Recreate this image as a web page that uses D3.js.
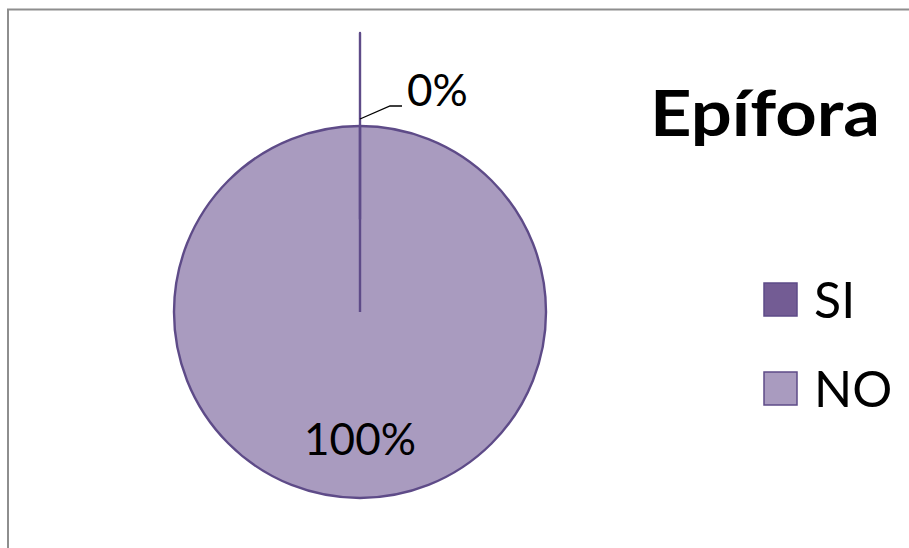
<!DOCTYPE html>
<html>
<head>
<meta charset="utf-8">
<script src="https://cdn.jsdelivr.net/npm/d3@7/dist/d3.min.js"></script>
<style>
  html, body { margin: 0; padding: 0; background: #ffffff; }
  svg { display: block; }
  text { font-family: Lato, "Noto Sans", sans-serif; fill: #000; }
</style>
</head>
<body>
<svg id="chart" width="909" height="548"></svg>
<script>
// Chart data
const title = "Epífora";
const categories = ["SI", "NO"];
const values = [0, 100];
const percentLabels = ["0%", "100%"];
const colors = ["#735c94", "#a99bbf"];
const explode = [0.5, 0];

const W = 909, H = 548;
const svg = d3.select("#chart");

// Chart-area frame (runs off the right and bottom edges)
svg.append("path")
  .attr("d", `M8,${H + 5} L8,9.5 L${W + 5},9.5`)
  .attr("fill", "none")
  .attr("stroke", "#8e8e8e")
  .attr("stroke-width", 2);

const cx = 360, cy = 312, r = 186;
const g = svg.append("g").attr("transform", `translate(${cx},${cy})`);

const pie = d3.pie().value(d => d).sort(null);
const arcs = pie(values);
const arc = d3.arc().innerRadius(0).outerRadius(r);
const strokeCol = "#5e4b88";

// Slices, largest first so the thin exploded slice sits on top
const order = d3.range(arcs.length).sort((a, b) => values[b] - values[a]);
order.forEach(i => {
  const a = arcs[i];
  const mid = (a.startAngle + a.endAngle) / 2;
  const off = explode[i] * r;
  const dx = Math.sin(mid) * off, dy = -Math.cos(mid) * off;
  g.append("path")
    .attr("d", arc(a))
    .attr("transform", `translate(${dx},${dy})`)
    .attr("fill", colors[i])
    .attr("stroke", strokeCol)
    .attr("stroke-width", 2.4)
    .attr("stroke-linejoin", "round");
  // radial start edge of a full-circle slice
  if (a.endAngle - a.startAngle >= 2 * Math.PI - 1e-6) {
    g.append("line")
      .attr("x1", 0).attr("y1", 0)
      .attr("x2", Math.sin(a.startAngle) * r)
      .attr("y2", -Math.cos(a.startAngle) * r)
      .attr("stroke", strokeCol)
      .attr("stroke-width", 2.4);
  }
});

// Data labels
const labelSize = 44;
// SI (0%) label outside with leader line
{
  const a = arcs[0];
  const ang = a.startAngle;
  const p0 = [Math.sin(ang) * (r + 7), -Math.cos(ang) * (r + 7)];
  const p1 = [p0[0] + 30, p0[1] - 13];
  const p2 = [p1[0] + 12, p1[1]];
  g.append("polyline")
    .attr("points", [p0, p1, p2].map(p => p.join(",")).join(" "))
    .attr("fill", "none")
    .attr("stroke", "#000")
    .attr("stroke-width", 1.3);
  g.append("text")
    .attr("x", p2[0] + 5)
    .attr("y", p2[1])
    .attr("font-size", labelSize)
    .text(percentLabels[0]);
}
// NO (100%) label inside
{
  const labelArc = d3.arc().innerRadius(r * 0.77).outerRadius(r * 0.77);
  const [lx, ly] = labelArc.centroid({ startAngle: Math.PI, endAngle: Math.PI });
  g.append("text")
    .attr("x", lx)
    .attr("y", ly)
    .attr("text-anchor", "middle")
    .attr("font-size", labelSize)
    .text(percentLabels[1]);
}

// Title
svg.append("text")
  .attr("x", 650)
  .attr("y", 136)
  .attr("font-size", 64)
  .attr("font-weight", "bold")
  .attr("textLength", 230)
  .attr("lengthAdjust", "spacingAndGlyphs")
  .text(title);

// Legend
const legY = d3.scalePoint().domain(categories).range([283, 372]);
const leg = svg.append("g");
categories.forEach((c, i) => {
  leg.append("rect")
    .attr("x", 764).attr("y", legY(c))
    .attr("width", 33).attr("height", 33)
    .attr("fill", colors[i])
    .attr("stroke", strokeCol)
    .attr("stroke-width", 1.5);
  leg.append("text")
    .attr("x", 814)
    .attr("y", legY(c) + 35)
    .attr("font-size", 50)
    .text(c);
});
</script>
</body>
</html>
